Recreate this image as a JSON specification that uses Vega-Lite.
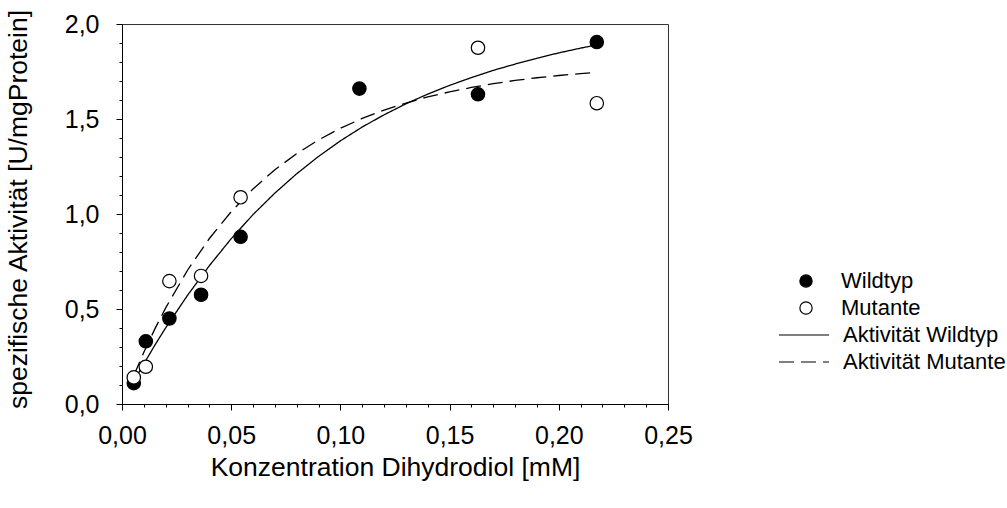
{
  "$schema": "https://vega.github.io/schema/vega-lite/v6.json",
  "width": 546,
  "height": 380,
  "autosize": {"type": "none"},
  "padding": {"left": 122, "top": 24, "right": 339, "bottom": 104},
  "background": "white",
  "config": {
    "font": "Liberation Sans",
    "view": {"stroke": "#333333", "strokeWidth": 1},
    "axis": {
      "domainColor": "black",
      "tickColor": "black",
      "labelColor": "black",
      "titleColor": "black",
      "grid": false,
      "labelFontSize": 25,
      "titleFontSize": 26.5,
      "titleFontWeight": "normal",
      "labelFont": "Liberation Sans",
      "titleFont": "Liberation Sans",
      "labelFlush": false
    },
    "legend": {
      "labelFont": "Liberation Sans",
      "labelFontSize": 22,
      "labelColor": "black",
      "labelLimit": 400,
      "padding": 0
    }
  },
  "datasets": {
    "punkte": [
      {"konz": 0.0054, "akt": 0.11, "gruppe": "Wildtyp"},
      {"konz": 0.0109, "akt": 0.33, "gruppe": "Wildtyp"},
      {"konz": 0.0217, "akt": 0.45, "gruppe": "Wildtyp"},
      {"konz": 0.0362, "akt": 0.575, "gruppe": "Wildtyp"},
      {"konz": 0.0543, "akt": 0.88, "gruppe": "Wildtyp"},
      {"konz": 0.1087, "akt": 1.66, "gruppe": "Wildtyp"},
      {"konz": 0.163, "akt": 1.63, "gruppe": "Wildtyp"},
      {"konz": 0.2174, "akt": 1.905, "gruppe": "Wildtyp"},
      {"konz": 0.0054, "akt": 0.14, "gruppe": "Mutante"},
      {"konz": 0.0109, "akt": 0.196, "gruppe": "Mutante"},
      {"konz": 0.0217, "akt": 0.647, "gruppe": "Mutante"},
      {"konz": 0.0362, "akt": 0.674, "gruppe": "Mutante"},
      {"konz": 0.0543, "akt": 1.088, "gruppe": "Mutante"},
      {"konz": 0.163, "akt": 1.875, "gruppe": "Mutante"},
      {"konz": 0.2174, "akt": 1.583, "gruppe": "Mutante"}
    ],
    "kurven": [
      {"konz": 0.0054, "akt": 0.12, "kurve": "Aktivität Wildtyp"},
      {"konz": 0.01, "akt": 0.211, "kurve": "Aktivität Wildtyp"},
      {"konz": 0.015, "akt": 0.309, "kurve": "Aktivität Wildtyp"},
      {"konz": 0.02, "akt": 0.401, "kurve": "Aktivität Wildtyp"},
      {"konz": 0.03, "akt": 0.572, "kurve": "Aktivität Wildtyp"},
      {"konz": 0.04, "akt": 0.728, "kurve": "Aktivität Wildtyp"},
      {"konz": 0.05, "akt": 0.87, "kurve": "Aktivität Wildtyp"},
      {"konz": 0.06, "akt": 0.997, "kurve": "Aktivität Wildtyp"},
      {"konz": 0.07, "akt": 1.11, "kurve": "Aktivität Wildtyp"},
      {"konz": 0.08, "akt": 1.212, "kurve": "Aktivität Wildtyp"},
      {"konz": 0.09, "akt": 1.303, "kurve": "Aktivität Wildtyp"},
      {"konz": 0.1, "akt": 1.385, "kurve": "Aktivität Wildtyp"},
      {"konz": 0.11, "akt": 1.458, "kurve": "Aktivität Wildtyp"},
      {"konz": 0.12, "akt": 1.522, "kurve": "Aktivität Wildtyp"},
      {"konz": 0.13, "akt": 1.58, "kurve": "Aktivität Wildtyp"},
      {"konz": 0.14, "akt": 1.631, "kurve": "Aktivität Wildtyp"},
      {"konz": 0.15, "akt": 1.677, "kurve": "Aktivität Wildtyp"},
      {"konz": 0.16, "akt": 1.718, "kurve": "Aktivität Wildtyp"},
      {"konz": 0.17, "akt": 1.756, "kurve": "Aktivität Wildtyp"},
      {"konz": 0.18, "akt": 1.789, "kurve": "Aktivität Wildtyp"},
      {"konz": 0.19, "akt": 1.82, "kurve": "Aktivität Wildtyp"},
      {"konz": 0.2, "akt": 1.848, "kurve": "Aktivität Wildtyp"},
      {"konz": 0.21, "akt": 1.873, "kurve": "Aktivität Wildtyp"},
      {"konz": 0.2174, "akt": 1.89, "kurve": "Aktivität Wildtyp"},
      {"konz": 0.0054, "akt": 0.15, "kurve": "Aktivität Mutante"},
      {"konz": 0.01, "akt": 0.272, "kurve": "Aktivität Mutante"},
      {"konz": 0.015, "akt": 0.394, "kurve": "Aktivität Mutante"},
      {"konz": 0.02, "akt": 0.506, "kurve": "Aktivität Mutante"},
      {"konz": 0.03, "akt": 0.704, "kurve": "Aktivität Mutante"},
      {"konz": 0.04, "akt": 0.871, "kurve": "Aktivität Mutante"},
      {"konz": 0.05, "akt": 1.012, "kurve": "Aktivität Mutante"},
      {"konz": 0.06, "akt": 1.132, "kurve": "Aktivität Mutante"},
      {"konz": 0.07, "akt": 1.233, "kurve": "Aktivität Mutante"},
      {"konz": 0.08, "akt": 1.318, "kurve": "Aktivität Mutante"},
      {"konz": 0.09, "akt": 1.39, "kurve": "Aktivität Mutante"},
      {"konz": 0.1, "akt": 1.451, "kurve": "Aktivität Mutante"},
      {"konz": 0.11, "akt": 1.503, "kurve": "Aktivität Mutante"},
      {"konz": 0.12, "akt": 1.547, "kurve": "Aktivität Mutante"},
      {"konz": 0.13, "akt": 1.584, "kurve": "Aktivität Mutante"},
      {"konz": 0.14, "akt": 1.616, "kurve": "Aktivität Mutante"},
      {"konz": 0.15, "akt": 1.643, "kurve": "Aktivität Mutante"},
      {"konz": 0.16, "akt": 1.666, "kurve": "Aktivität Mutante"},
      {"konz": 0.17, "akt": 1.686, "kurve": "Aktivität Mutante"},
      {"konz": 0.18, "akt": 1.703, "kurve": "Aktivität Mutante"},
      {"konz": 0.19, "akt": 1.717, "kurve": "Aktivität Mutante"},
      {"konz": 0.2, "akt": 1.729, "kurve": "Aktivität Mutante"},
      {"konz": 0.21, "akt": 1.739, "kurve": "Aktivität Mutante"},
      {"konz": 0.2174, "akt": 1.746, "kurve": "Aktivität Mutante"}
    ]
  },
  "resolve": {"axis": {"x": "independent", "y": "independent"}},
  "layer": [
    {
      "data": {"name": "kurven"},
      "mark": {"type": "line", "color": "black", "strokeWidth": 1.3, "clip": true},
      "encoding": {
        "x": {
          "field": "konz", "type": "quantitative",
          "scale": {"domain": [0, 0.25], "nice": false, "zero": false},
          "axis": {
            "orient": "bottom",
            "title": "Konzentration Dihydrodiol [mM]",
            "values": [0, 0.05, 0.1, 0.15, 0.2, 0.25],
            "labelExpr": "replace(format(datum.value,'.2f'),'.',',')",
            "tickSize": 6,
            "labelPadding": 13,
            "titlePadding": 6,
            "labelOverlap": false
          }
        },
        "y": {
          "field": "akt", "type": "quantitative",
          "scale": {"domain": [0, 2], "nice": false},
          "axis": {
            "orient": "left",
            "title": "spezifische Aktivität [U/mgProtein]",
            "titleY": 185,
            "values": [0, 0.5, 1, 1.5, 2],
            "labelExpr": "replace(format(datum.value,'.1f'),'.',',')",
            "tickSize": 6,
            "labelPadding": 17,
            "titlePadding": 32,
            "labelOverlap": false
          }
        },
        "strokeDash": {
          "field": "kurve", "type": "nominal",
          "scale": {"domain": ["Aktivität Wildtyp", "Aktivität Mutante"], "range": [[1, 0], [15, 7]]},
          "legend": {
            "title": null,
            "orient": "none",
            "legendX": 671,
            "legendY": 300,
            "symbolType": "M-2.5,0H2.5",
            "symbolSize": 400,
            "symbolStrokeColor": "black",
            "symbolStrokeWidth": 1.2,
            "labelOffset": 28,
            "rowPadding": 5
          }
        }
      }
    },
    {
      "data": {"name": "punkte"},
      "mark": {"type": "point", "shape": "circle", "filled": true, "stroke": "black", "strokeWidth": 1.2, "size": 180, "opacity": 1},
      "encoding": {
        "x": {
          "field": "konz", "type": "quantitative",
          "axis": {
            "orient": "bottom",
            "title": null,
            "values": [0.01,0.02,0.03,0.04,0.06,0.07,0.08,0.09,0.11,0.12,0.13,0.14,0.16,0.17,0.18,0.19,0.21,0.22,0.23,0.24],
            "labels": false,
            "domain": false,
            "tickSize": 3
          }
        },
        "y": {
          "field": "akt", "type": "quantitative",
          "axis": {
            "orient": "left",
            "title": null,
            "values": [0.1,0.2,0.3,0.4,0.6,0.7,0.8,0.9,1.1,1.2,1.3,1.4,1.6,1.7,1.8,1.9],
            "labels": false,
            "domain": false,
            "tickSize": 3
          }
        },
        "fill": {
          "field": "gruppe", "type": "nominal",
          "scale": {"domain": ["Wildtyp", "Mutante"], "range": ["black", "white"]},
          "legend": {
            "title": null,
            "orient": "none",
            "legendX": 673,
            "legendY": 246,
            "symbolType": "circle",
            "symbolSize": 150,
            "symbolStrokeColor": "black",
            "symbolStrokeWidth": 1.2,
            "symbolOpacity": 1,
            "labelOffset": 24,
            "rowPadding": 5
          }
        }
      }
    }
  ]
}
